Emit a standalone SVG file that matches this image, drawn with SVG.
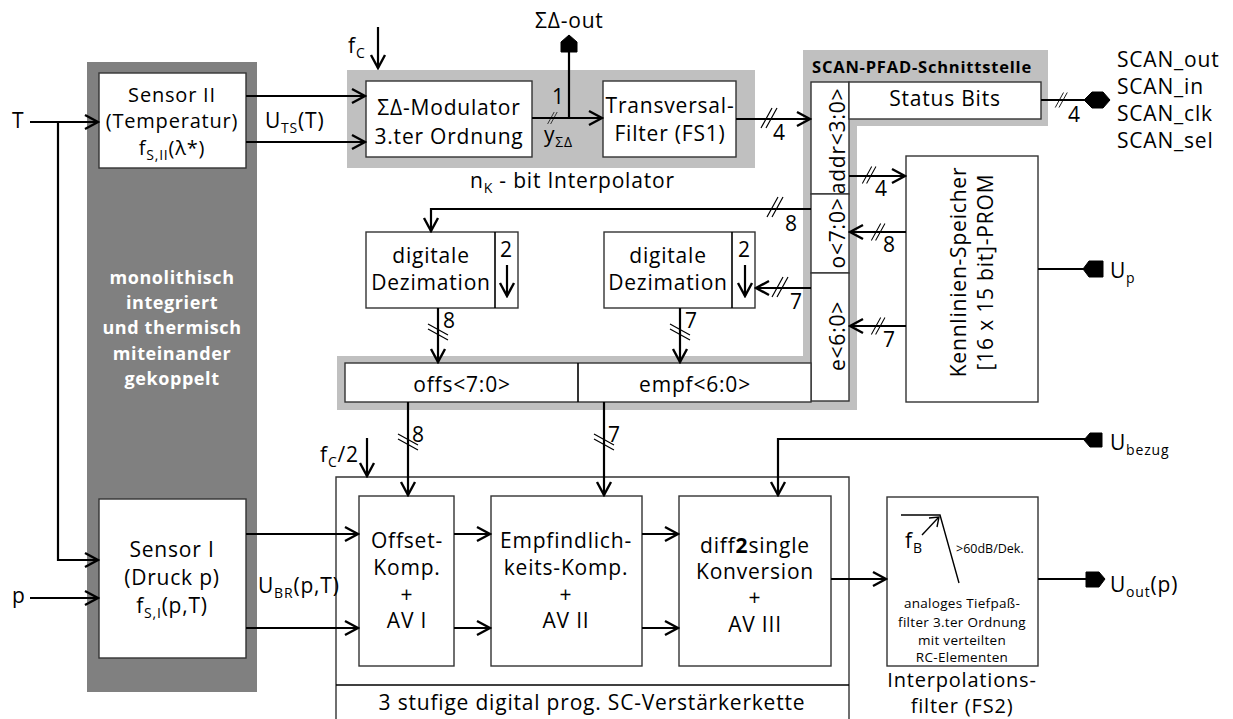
<svg xmlns="http://www.w3.org/2000/svg" width="1233" height="719" viewBox="0 0 1233 719">
<style>
text{font-family:"Open Sans","DejaVu Sans",sans-serif;font-size:21px;fill:#000;letter-spacing:0.8px}
.m{text-anchor:middle}
.t{font-size:20px}
.s{font-size:13.5px;letter-spacing:0.3px}
.b{font-weight:bold}
.w{fill:#fff;font-weight:bold;font-size:18px;letter-spacing:0.6px}
.box{fill:#fff;stroke:#333;stroke-width:1.4}
.ln{fill:none;stroke:#000;stroke-width:2.2}
.arr{fill:none;stroke:#000;stroke-width:2.2;marker-end:url(#ah)}
.bus{fill:none;stroke:#000;stroke-width:1.2}
.con{fill:#000;stroke:#000;stroke-width:1}
</style>
<defs>
<marker id="ah" viewBox="-15 -9 17 18" refX="0" refY="0" markerWidth="17" markerHeight="18" markerUnits="userSpaceOnUse" orient="auto">
<path d="M-13,-7 L0,0 L-13,7" fill="none" stroke="#000" stroke-width="2.4"/>
</marker>
<path id="sl" d="M-9,10 L2,-10 M-4,10 L7,-10"/>
</defs>

<!-- background regions -->
<g id="monolith">
<rect x="87" y="62" width="170" height="630" fill="#808080"/>
<text class="w m" x="172" y="284">monolithisch</text>
<text class="w m" x="172" y="309">integriert</text>
<text class="w m" x="172" y="334">und thermisch</text>
<text class="w m" x="172" y="360">miteinander</text>
<text class="w m" x="172" y="385">gekoppelt</text>
</g>
<g id="interpolator">
<rect x="347" y="70" width="408" height="98" fill="#c0c0c0"/>
<text x="470" y="188">n<tspan font-size="14" dy="5">K</tspan><tspan dy="-5"> - bit Interpolator</tspan></text>
</g>
<g id="scan">
<path d="M803,50 H1048 V126 H857 V410 H337 V356 H803 Z" fill="#c0c0c0"/>
<text class="b" x="812" y="73" style="font-size:16.5px;letter-spacing:0.8px">SCAN-PFAD-Schnittstelle</text>
</g>

<!-- nodes -->
<g id="sensor2">
<rect class="box" x="99" y="73" width="147" height="95"/>
<text class="m t" x="172" y="102">Sensor II</text>
<text class="m t" x="172" y="128">(Temperatur)</text>
<text class="m t" x="172" y="155">f<tspan font-size="14" dy="5">S,II</tspan><tspan dy="-5">(λ*)</tspan></text>
</g>
<g id="sensor1">
<rect class="box" x="99" y="499" width="147" height="159"/>
<text class="m" x="172" y="557">Sensor I</text>
<text class="m" x="172" y="585">(Druck p)</text>
<text class="m" x="172" y="613">f<tspan font-size="14" dy="5">S,I</tspan><tspan dy="-5">(p,T)</tspan></text>
</g>
<g id="modulator">
<rect class="box" x="366" y="81" width="166" height="76"/>
<text class="m" x="449" y="115">ΣΔ-Modulator</text>
<text class="m" x="449" y="144">3.ter Ordnung</text>
</g>
<g id="transversal">
<rect class="box" x="603" y="81" width="133" height="76"/>
<text class="m" x="670" y="113">Transversal-</text>
<text class="m" x="670" y="141">Filter (FS1)</text>
</g>
<g id="addr">
<rect class="box" x="811" y="82" width="38" height="112"/>
<text class="m" transform="translate(845,141) rotate(-90)">addr&lt;3:0&gt;</text>
</g>
<g id="o">
<rect class="box" x="811" y="194" width="38" height="79"/>
<text class="m" transform="translate(845,233) rotate(-90)">o&lt;7:0&gt;</text>
</g>
<g id="e">
<rect class="box" x="811" y="273" width="38" height="128"/>
<text class="m" transform="translate(845,336) rotate(-90)">e&lt;6:0&gt;</text>
</g>
<g id="status">
<rect class="box" x="849" y="82" width="192" height="37"/>
<text class="m" x="945" y="106">Status Bits</text>
</g>
<g id="kennlinien">
<rect class="box" x="906" y="156" width="132" height="246"/>
<text class="m" transform="translate(966,272) rotate(-90)">Kennlinien-Speicher</text>
<text class="m" transform="translate(993,272) rotate(-90)">[16 x 15 bit]-PROM</text>
</g>
<g id="dez1">
<rect class="box" x="366" y="232" width="152" height="76"/>
<line x1="495" y1="232" x2="495" y2="308" stroke="#000" stroke-width="1.6"/>
<text class="m" x="431" y="263">digitale</text>
<text class="m" x="431" y="290">Dezimation</text>
<text x="500" y="257">2</text>
</g>
<g id="dez2">
<rect class="box" x="604" y="232" width="151" height="76"/>
<line x1="732" y1="232" x2="732" y2="308" stroke="#000" stroke-width="1.6"/>
<text class="m" x="668" y="263">digitale</text>
<text class="m" x="668" y="290">Dezimation</text>
<text x="738" y="257">2</text>
</g>
<g id="offsempf">
<rect class="box" x="345" y="363" width="466" height="39"/>
<line x1="578" y1="363" x2="578" y2="402" stroke="#000" stroke-width="1.6"/>
<text class="m" x="462" y="392">offs&lt;7:0&gt;</text>
<text class="m" x="695" y="392">empf&lt;6:0&gt;</text>
</g>
<g id="scchain">
<path class="box" d="M336,730 V477 H849 V730"/>
<line x1="336" y1="685" x2="849" y2="685" stroke="#000" stroke-width="1.6"/>
<text class="m" x="592" y="710">3 stufige digital prog. SC-Verstärkerkette</text>
</g>
<g id="offset">
<rect class="box" x="359" y="496" width="95" height="170"/>
<text class="m" x="407" y="548">Offset-</text>
<text class="m" x="407" y="575">Komp.</text>
<text class="m" x="407" y="602">+</text>
<text class="m" x="407" y="628">AV I</text>
</g>
<g id="empf">
<rect class="box" x="491" y="496" width="151" height="170"/>
<text class="m" x="566" y="548">Empfindlich-</text>
<text class="m" x="566" y="575">keits-Komp.</text>
<text class="m" x="566" y="602">+</text>
<text class="m" x="566" y="628">AV II</text>
</g>
<g id="diff2single">
<rect class="box" x="679" y="496" width="152" height="170"/>
<text class="m" x="755" y="553">diff<tspan font-weight="bold">2</tspan>single</text>
<text class="m" x="755" y="579">Konversion</text>
<text class="m" x="755" y="605">+</text>
<text class="m" x="755" y="632">AV III</text>
</g>
<g id="filter">
<rect class="box" x="887" y="497" width="151" height="169"/>
<path d="M901,515 H940 L959,583" fill="none" stroke="#000" stroke-width="1.4"/>
<path d="M922,535 L938,518" fill="none" stroke="#000" stroke-width="1.4"/>
<path d="M929,518 L939,517 L937,527" fill="none" stroke="#000" stroke-width="1.4"/>
<text x="905" y="548">f<tspan font-size="14" dy="5">B</tspan></text>
<text x="956" y="553" style="font-size:12.5px;letter-spacing:0">&gt;60dB/Dek.</text>
<text class="s m" x="962" y="608">analoges Tiefpaß-</text>
<text class="s m" x="962" y="627">filter 3.ter Ordnung</text>
<text class="s m" x="962" y="645">mit verteilten</text>
<text class="s m" x="962" y="662">RC-Elementen</text>
<text class="m t" x="962" y="687">Interpolations-</text>
<text class="m t" x="962" y="713">filter (FS2)</text>
</g>

<!-- connectors -->
<g id="connectors">
<text x="12" y="128">T</text>
<line class="arr" x1="30" y1="122" x2="98" y2="122"/>
<path class="arr" d="M58,122 V560 H98"/>
<text x="12" y="603">p</text>
<line class="arr" x1="30" y1="598" x2="98" y2="598"/>
<line class="arr" x1="246" y1="96" x2="365" y2="96"/>
<line class="arr" x1="246" y1="142" x2="365" y2="142"/>
<text x="265" y="128">U<tspan font-size="14" dy="5">TS</tspan><tspan dy="-5">(T)</tspan></text>
<text x="348" y="53">f<tspan font-size="14" dy="5">C</tspan></text>
<line class="arr" x1="378" y1="27" x2="378" y2="68"/>
<line class="arr" x1="532" y1="118" x2="602" y2="118"/>
<line class="ln" x1="569" y1="118" x2="569" y2="50"/>
<polygon class="con" points="569,35 577,42 577,52 561,52 561,42"/>
<text x="535" y="28">ΣΔ-out</text>
<use href="#sl" class="bus" transform="translate(553,118) scale(0.6)"/>
<text x="552" y="104">1</text>
<text x="544" y="142">y<tspan font-size="14" dy="5">ΣΔ</tspan></text>
<line class="arr" x1="736" y1="119" x2="810" y2="119"/>
<use href="#sl" class="bus" transform="translate(770,118)"/>
<text x="773" y="140">4</text>
<line class="ln" x1="1041" y1="100" x2="1086" y2="100"/>
<polygon class="con" points="1084,100 1092,92 1103,92 1110,100 1103,108 1092,108"/>
<use href="#sl" class="bus" transform="translate(1062,100) scale(0.75)"/>
<text x="1068" y="122">4</text>
<text x="1117" y="67">SCAN_out</text>
<text x="1117" y="94">SCAN_in</text>
<text x="1117" y="121">SCAN_clk</text>
<text x="1117" y="148">SCAN_sel</text>
<line class="arr" x1="849" y1="176" x2="905" y2="176"/>
<use href="#sl" class="bus" transform="translate(870,175) scale(0.85)"/>
<text x="875" y="196">4</text>
<line class="arr" x1="906" y1="232" x2="850" y2="232"/>
<use href="#sl" class="bus" transform="translate(879,232) scale(0.85)"/>
<text x="883" y="252">8</text>
<line class="arr" x1="906" y1="326" x2="850" y2="326"/>
<use href="#sl" class="bus" transform="translate(879,326) scale(0.85)"/>
<text x="883" y="347">7</text>
<line class="ln" x1="1038" y1="269" x2="1086" y2="269"/>
<polygon class="con" points="1083,269 1089,261 1103,261 1103,277 1089,277"/>
<text x="1110" y="278">U<tspan font-size="14" dy="5">p</tspan></text>
<path class="arr" d="M811,209 H431 V231"/>
<use href="#sl" class="bus" transform="translate(776,207)"/>
<text x="785" y="231">8</text>
<line class="arr" x1="811" y1="288" x2="756" y2="288"/>
<use href="#sl" class="bus" transform="translate(781,287)"/>
<text x="790" y="309">7</text>
<line class="arr" x1="507" y1="265" x2="507" y2="296"/>
<line class="arr" x1="745" y1="265" x2="745" y2="296"/>
<line class="arr" x1="438" y1="308" x2="438" y2="362"/>
<use href="#sl" class="bus" transform="translate(438,333) rotate(90)"/>
<text x="443" y="328">8</text>
<line class="arr" x1="680" y1="308" x2="680" y2="362"/>
<use href="#sl" class="bus" transform="translate(680,333) rotate(90)"/>
<text x="685" y="328">7</text>
<line class="arr" x1="408" y1="402" x2="408" y2="495"/>
<use href="#sl" class="bus" transform="translate(408,443) rotate(90)"/>
<text x="412" y="442">8</text>
<line class="arr" x1="604" y1="402" x2="604" y2="495"/>
<use href="#sl" class="bus" transform="translate(604,443) rotate(90)"/>
<text x="608" y="442">7</text>
<text x="320" y="462">f<tspan font-size="14" dy="5">C</tspan><tspan dy="-5">/2</tspan></text>
<line class="arr" x1="367" y1="438" x2="367" y2="476"/>
<line class="arr" x1="246" y1="534" x2="358" y2="534"/>
<line class="arr" x1="246" y1="628" x2="358" y2="628"/>
<text x="258" y="593">U<tspan font-size="14" dy="5">BR</tspan><tspan dy="-5">(p,T)</tspan></text>
<line class="arr" x1="454" y1="534" x2="490" y2="534"/>
<line class="arr" x1="454" y1="628" x2="490" y2="628"/>
<line class="arr" x1="642" y1="534" x2="678" y2="534"/>
<line class="arr" x1="642" y1="628" x2="678" y2="628"/>
<path class="arr" d="M1086,439 H778 V495"/>
<polygon class="con" points="1084,440 1090,433 1102,433 1102,447 1090,447"/>
<text x="1110" y="450">U<tspan font-size="14" dy="5">bezug</tspan></text>
<line class="arr" x1="831" y1="579" x2="886" y2="579"/>
<line class="ln" x1="1038" y1="579" x2="1088" y2="579"/>
<polygon class="con" points="1086,572 1099,572 1105,579 1099,587 1086,587"/>
<text x="1110" y="592">U<tspan font-size="14" dy="5">out</tspan><tspan dy="-5">(p)</tspan></text>
</g>
</svg>
